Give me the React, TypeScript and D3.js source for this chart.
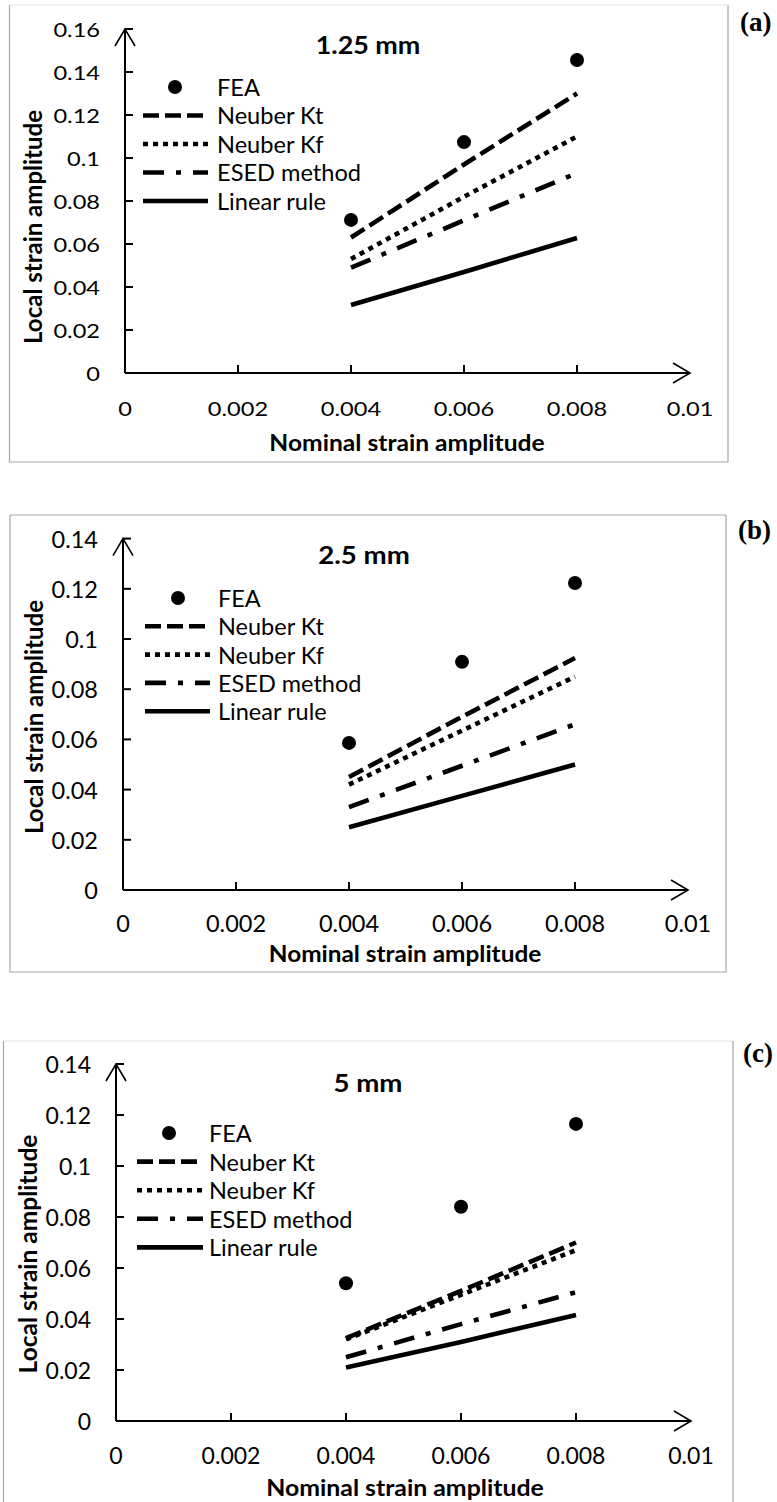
import React, { useEffect, useRef } from 'react';
import * as d3 from 'd3';

// nominal strain amplitudes where the methods were evaluated
const nominalStrain = [0.004, 0.006, 0.008];
const xTicks = [0, 0.002, 0.004, 0.006, 0.008, 0.01];
const yTicks16 = [0, 0.02, 0.04, 0.06, 0.08, 0.1, 0.12, 0.14, 0.16];
const yTicks14 = [0, 0.02, 0.04, 0.06, 0.08, 0.1, 0.12, 0.14];

const seriesNames = ['FEA', 'Neuber Kt', 'Neuber Kf', 'ESED method', 'Linear rule'];
const panelTitles = ['1.25 mm', '2.5 mm', '5 mm'];
const panelLetters = ['(a)', '(b)', '(c)'];

// (a) 1.25 mm
const fea125 = [0.0712, 0.1074, 0.1456];
const kt125 = [0.063, 0.097, 0.13];
const kf125 = [0.053, 0.082, 0.11];
const esed125 = [0.049, 0.071, 0.093];
const linear125 = [0.0316, 0.047, 0.0628];

// (b) 2.5 mm
const fea25 = [0.0586, 0.0909, 0.1223];
const kt25 = [0.045, 0.069, 0.0924];
const kf25 = [0.042, 0.0635, 0.085];
const esed25 = [0.033, 0.0495, 0.066];
const linear25 = [0.025, 0.0375, 0.05];

// (c) 5 mm
const fea5 = [0.054, 0.084, 0.1165];
const kt5 = [0.0325, 0.051, 0.07];
const kf5 = [0.032, 0.0495, 0.067];
const esed5 = [0.025, 0.038, 0.0505];
const linear5 = [0.021, 0.031, 0.0416];

const FONT = 'Lato, "Open Sans", sans-serif';

// line look for each analytical method
const lineStyles = [
  { dash: '16 6' },
  { dash: '5 5' },
  { dash: '21 12 5 12' },
  { dash: null },
];

const panels = [
  {
    series: [fea125, kt125, kf125, esed125, linear125],
    yMax: 0.16, yTicks: yTicks16,
    frame: { x0: 9.5, y0: 5, x1: 728, y1: 462, topColor: '#e4e4e4' },
    x: [125, 690], y: [373, 29],
    title: { x: 368, y: 45 }, letter: { x: 740, y: 22 },
    legend: { cx: 175, lx0: 143, lx1: 208, tx: 217, y0: 87, dy: 28.5 },
    yLabel: { x: 32, y: 227 }, xLabel: { x: 407, y: 443 }, tickDy: 35,
    // font size and horizontal stretch per text kind
    tick: [20, 1.18], leg: [22.5, 1.05], xt: [22, 1.12], yt: 24, ttl: [24, 1.12],
  },
  {
    series: [fea25, kt25, kf25, esed25, linear25],
    yMax: 0.14, yTicks: yTicks14,
    frame: { x0: 10, y0: 515, x1: 726, y1: 972, topColor: '#a6a6a6' },
    x: [123, 688], y: [890, 538.6],
    title: { x: 364, y: 555 }, letter: { x: 738, y: 530 },
    legend: { cx: 178, lx0: 145, lx1: 210, tx: 218, y0: 598, dy: 28.3 },
    yLabel: { x: 33, y: 717 }, xLabel: { x: 405, y: 953 }, tickDy: 33,
    tick: [23.5, 1], leg: [23.5, 1], xt: [23, 1.06], yt: 24, ttl: [24, 1.15],
  },
  {
    series: [fea5, kt5, kf5, esed5, linear5],
    yMax: 0.14, yTicks: yTicks14,
    frame: { x0: 3.5, y0: 1041, x1: 733, y1: 1530, topColor: '#e4e4e4' },
    x: [116, 691], y: [1421, 1064],
    title: { x: 368, y: 1083 }, letter: { x: 743, y: 1053 },
    legend: { cx: 169, lx0: 137, lx1: 203, tx: 209, y0: 1133, dy: 28.6 },
    yLabel: { x: 27, y: 1254 }, xLabel: { x: 405, y: 1487 }, tickDy: 34,
    tick: [23, 1], leg: [23.5, 1], xt: [23, 1.08], yt: 24.5, ttl: [24, 1.15],
  },
];

type TextOpts = { size: number; sx?: number; anchor?: string; bold?: boolean; family?: string; rotate?: number };

const addText = (g: any, x: number, y: number, str: string, o: TextOpts) =>
  g.append('text')
    .attr('transform', `translate(${x},${y})${o.rotate ? ` rotate(${o.rotate})` : ''} scale(${o.sx || 1},1)`)
    .attr('text-anchor', o.anchor || 'start')
    .attr('dominant-baseline', 'central')
    .style('font-family', o.family || FONT)
    .style('font-size', `${o.size}px`)
    .style('font-weight', o.bold ? 'bold' : 'normal')
    .text(str);

const App = () => {
  const ref = useRef<SVGSVGElement | null>(null);

  useEffect(() => {
    const svg = d3.select(ref.current);
    svg.selectAll('*').remove();
    const fmt = d3.format('~g');

    panels.forEach((p, i) => {
      const g = svg.append('g');
      const xScale = d3.scaleLinear().domain([0, 0.01]).range(p.x);
      const yScale = d3.scaleLinear().domain([0, p.yMax]).range(p.y);
      const x0 = xScale(0);
      const y0 = yScale(0);

      // chart area border
      const f = p.frame;
      g.append('path')
        .attr('d', `M${f.x0},${f.y0}V${f.y1}H${f.x1}V${f.y0}`)
        .attr('fill', 'none').attr('stroke', '#a6a6a6').attr('stroke-width', 1.2);
      g.append('line')
        .attr('x1', f.x0).attr('x2', f.x1).attr('y1', f.y0).attr('y2', f.y0)
        .attr('stroke', f.topColor).attr('stroke-width', 1.2);

      // axes with inner ticks and arrow heads
      const axis = g.append('g').attr('stroke', '#000').attr('stroke-width', 2).attr('fill', 'none');
      axis.append('line').attr('x1', x0).attr('x2', xScale(0.01)).attr('y1', y0).attr('y2', y0);
      axis.append('line').attr('x1', x0).attr('x2', x0).attr('y1', y0).attr('y2', yScale(p.yMax));
      axis.selectAll('.yt').data(p.yTicks.slice(1)).enter().append('line')
        .attr('x1', x0).attr('x2', x0 + 8).attr('y1', d => yScale(d)).attr('y2', d => yScale(d));
      axis.selectAll('.xt').data(xTicks.slice(1, -1)).enter().append('line')
        .attr('x1', d => xScale(d)).attr('x2', d => xScale(d)).attr('y1', y0).attr('y2', y0 - 8);
      const xe = xScale(0.01);
      const yt = yScale(p.yMax);
      axis.append('path').attr('d', `M${xe - 17},${y0 - 10}L${xe},${y0}L${xe - 17},${y0 + 10}`).attr('stroke-width', 1.6);
      axis.append('path').attr('d', `M${x0 - 10},${yt + 17}L${x0},${yt}L${x0 + 10},${yt + 17}`).attr('stroke-width', 1.6);

      // tick labels
      p.yTicks.forEach(d => addText(g, x0 - 25, yScale(d), fmt(d), { size: p.tick[0], sx: p.tick[1], anchor: 'end' }));
      xTicks.forEach(d => addText(g, xScale(d), y0 + p.tickDy, fmt(d), { size: p.tick[0], sx: p.tick[1], anchor: 'middle' }));

      // axis titles
      addText(g, p.yLabel.x, p.yLabel.y, 'Local strain amplitude', { size: p.yt, anchor: 'middle', bold: true, rotate: -90 });
      addText(g, p.xLabel.x, p.xLabel.y, 'Nominal strain amplitude', { size: p.xt[0], sx: p.xt[1], anchor: 'middle', bold: true });

      // panel title and letter
      addText(g, p.title.x, p.title.y, panelTitles[i], { size: p.ttl[0], sx: p.ttl[1], anchor: 'middle', bold: true });
      addText(g, p.letter.x, p.letter.y, panelLetters[i], { size: 27, bold: true, family: '"Liberation Serif", serif' });

      // method lines
      const line = d3.line<number>().x((_, j) => xScale(nominalStrain[j])).y(d => yScale(d));
      p.series.slice(1).forEach((s, k) => {
        g.append('path').datum(s)
          .attr('d', line)
          .attr('fill', 'none').attr('stroke', '#000').attr('stroke-width', 4.6)
          .attr('stroke-dasharray', lineStyles[k].dash);
      });

      // FEA points
      g.selectAll('.fea').data(p.series[0]).enter().append('circle')
        .attr('cx', (_, j) => xScale(nominalStrain[j])).attr('cy', d => yScale(d))
        .attr('r', 7).attr('fill', '#000');

      // legend
      const L = p.legend;
      seriesNames.forEach((name, k) => {
        const ly = L.y0 + k * L.dy;
        if (k === 0) {
          g.append('circle').attr('cx', L.cx).attr('cy', ly).attr('r', 7).attr('fill', '#000');
        } else {
          g.append('line').attr('x1', L.lx0).attr('x2', L.lx1).attr('y1', ly).attr('y2', ly)
            .attr('stroke', '#000').attr('stroke-width', 4.6)
            .attr('stroke-dasharray', lineStyles[k - 1].dash);
        }
        addText(g, L.tx, ly, name, { size: p.leg[0], sx: p.leg[1] });
      });
    });
  }, []);

  return (
    <svg
      ref={ref}
      width={777}
      height={1502}
      style={{ position: 'absolute', left: 0, top: 0, background: '#fff' }}
    />
  );
};

export default App;
